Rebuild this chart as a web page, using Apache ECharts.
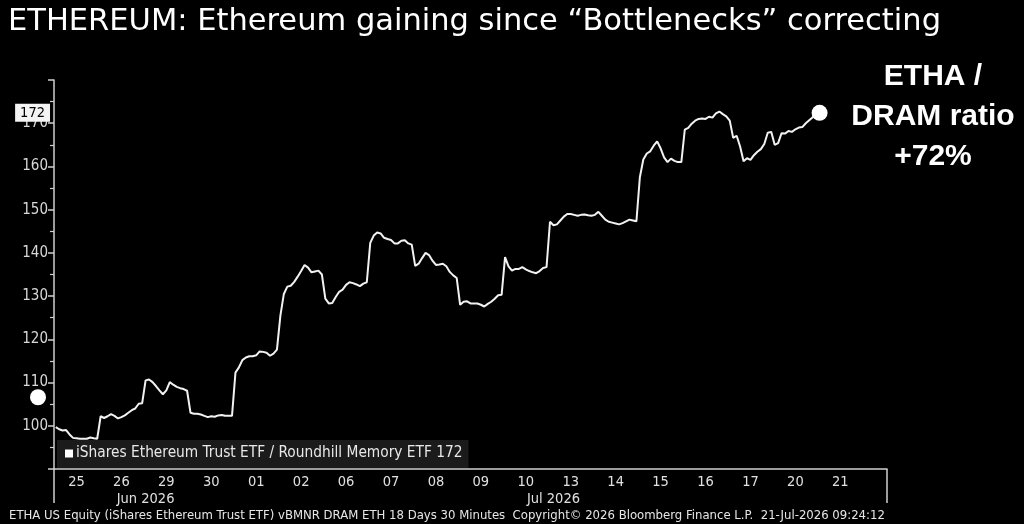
<!DOCTYPE html>
<html>
<head>
<meta charset="utf-8">
<script src="https://cdn.jsdelivr.net/npm/echarts@6/dist/echarts.min.js"></script>
<style>
html,body{margin:0;padding:0;background:#000;}
#chart{width:1024px;height:524px;}
</style>
</head>
<body>
<div id="chart"></div>
<script>
// ---- data ----
var tradingDays = ['06-25','06-26','06-29','06-30','07-01','07-02','07-06','07-07','07-08','07-09','07-10','07-13','07-14','07-15','07-16','07-17','07-20','07-21'];
var dayLabels = ['25','26','29','30','01','02','06','07','08','09','10','13','14','15','16','17','20','21'];
var slotTimes = ['09:30','10:00','10:30','11:00','11:30','12:00','12:30','13:00','13:30','14:00','14:30','15:00','15:30'];
var monthLabels = ['Jun 2026','Jul 2026'];
var seriesName = 'iShares Ethereum Trust ETF / Roundhill Memory ETF';
var ratioValues = [
  // 25 Jun
  99.7,99.2,98.9,99.0,98.0,97.2,97.1,97.0,97.0,97.0,97.3,97.1,97.0,
  // 26 Jun
  102.2,101.8,102.2,102.7,102.3,101.7,102.0,102.4,103.0,103.6,104.0,105.1,105.2,
  // 29 Jun
  110.5,110.7,110.1,109.2,108.2,107.3,108.2,110.1,109.5,109.0,108.7,108.5,108.1,
  // 30 Jun
  103.0,102.8,102.8,102.6,102.3,102.0,102.2,102.1,102.4,102.5,102.3,102.3,102.3,
  // 01 Jul
  112.3,113.5,115.2,115.8,116.1,116.1,116.3,117.2,117.1,116.9,116.2,116.7,117.6,
  // 02 Jul
  125.5,130.5,132.2,132.4,133.3,134.5,135.8,137.2,136.6,135.5,135.7,135.9,135.0,
  // 06 Jul
  129.4,128.3,128.4,129.8,131.0,131.5,132.6,133.2,133.0,132.7,132.3,132.9,133.2,
  // 07 Jul
  142.3,144.0,144.7,144.5,143.5,143.2,143.0,142.2,142.2,142.8,142.9,142.2,141.9,
  // 08 Jul
  137.0,137.5,138.8,140.0,139.5,138.2,137.2,137.3,137.5,136.9,135.6,134.8,134.2,
  // 09 Jul
  128.0,128.7,128.8,128.3,128.3,128.3,128.0,127.6,128.2,128.7,129.4,130.2,130.3,
  // 10 Jul
  139.0,136.9,135.9,136.3,136.3,136.7,136.2,135.8,135.5,135.3,135.8,136.5,136.7,
  // 13 Jul
  147.2,146.4,146.6,147.5,148.4,149.0,149.0,148.8,148.6,148.8,148.9,148.7,148.6,
  // 14 Jul
  148.8,149.5,148.6,147.7,147.2,147.0,146.8,146.6,146.9,147.3,147.7,147.5,147.3,
  // 15 Jul
  157.5,161.6,163.0,163.5,164.8,165.8,164.2,162.1,161.0,161.8,161.3,161.0,161.0,
  // 16 Jul
  168.5,168.9,169.9,170.6,171.0,171.1,171.0,171.5,171.3,172.3,172.7,172.1,171.6,
  // 17 Jul
  170.6,166.6,167.1,164.6,161.2,161.9,161.5,162.6,163.4,164.0,165.2,167.8,168.0,
  // 20 Jul
  165.0,165.4,167.7,167.6,168.2,168.0,168.6,169.0,169.1,170.0,170.7,171.4,172.0,
  // 21 Jul
  172.4
];
var startMarkerValue = 106.6;
var annotationLines = ['ETHA /','DRAM ratio','+72%'];

// ---- build categories ----
var SLOTS = slotTimes.length;
var categories = [];
tradingDays.forEach(function(d){ slotTimes.forEach(function(t){ categories.push('2026-' + d + ' ' + t); }); });
var PAD = 7;
for (var p = 0; p < PAD; p++) categories.push('pad' + p);
var nDayCats = tradingDays.length * SLOTS;
var lastIdx = ratioValues.length - 1;
var lastVal = ratioValues[lastIdx];
var monthIdx = {26: monthLabels[0], 144: monthLabels[1]};
var junEnd = tradingDays.filter(function(d){return d.indexOf('06-')===0;}).length * SLOTS;

var condensed = '"DejaVu Sans Condensed","Liberation Sans Narrow","Roboto Condensed",sans-serif';

var chart = echarts.init(document.getElementById('chart'));
var option = {
  backgroundColor: '#000',
  animation: false,
  title: [
    { text: 'ETHEREUM: Ethereum gaining since \u201cBottlenecks\u201d correcting', left: 3, top: 2,
      textStyle: { color: '#fff', fontSize: 30.5, fontWeight: 'normal', fontFamily: '"DejaVu Sans", sans-serif' } },
    { text: 'ETHA US Equity (iShares Ethereum Trust ETF) vBMNR DRAM ETH 18 Days 30 Minutes  Copyright\u00a9 2026 Bloomberg Finance L.P.  21-Jul-2026 09:24:12',
      left: 4, top: 504,
      textStyle: { color: '#e6e6e6', fontSize: 13, fontWeight: 'normal', fontFamily: condensed } }
  ],
  legend: {
    left: 57, top: 440, orient: 'horizontal',
    backgroundColor: '#1b1b1b', padding: [6, 6, 7, 8],
    icon: 'rect', itemWidth: 8, itemHeight: 8, itemGap: 4,
    textStyle: { color: '#e8e8e8', fontSize: 15.3, fontFamily: condensed, padding: [0,0,0,-2] },
    formatter: function(n){ return n + ' ' + Math.round(lastVal); },
    data: [seriesName]
  },
  grid: { left: 54, right: 137, top: 80, bottom: 55, containLabel: false },
  xAxis: [
    {
      type: 'category', data: categories, boundaryGap: true, position: 'bottom',
      axisLine: { show: true, lineStyle: { color: '#cfcfcf', width: 1.5 } },
      axisTick: { show: true, length: 34, interval: function(i){ return i === junEnd; }, lineStyle: { color: '#cfcfcf', width: 1.5 } },
      axisLabel: {
        color: '#e0e0e0', fontSize: 14.5, fontFamily: condensed, margin: 6,
        interval: function(i){ return i < nDayCats && i % SLOTS === 6; },
        formatter: function(v, i){ return dayLabels[Math.floor(i / SLOTS)] || ''; }
      },
      splitLine: { show: false }
    },
    {
      type: 'category', data: categories, boundaryGap: true, position: 'bottom', offset: 17,
      axisLine: { show: false }, axisTick: { show: false },
      axisLabel: {
        color: '#e0e0e0', fontSize: 14.5, fontFamily: condensed, margin: 6,
        interval: function(i){ return monthIdx[i] !== undefined; },
        formatter: function(v, i){ return monthIdx[i] || ''; }
      },
      splitLine: { show: false }
    }
  ],
  yAxis: {
    type: 'value', min: 90, max: 180, interval: 10,
    axisLine: { show: true, lineStyle: { color: '#cfcfcf', width: 1.5 } },
    axisTick: { show: true, length: 6, lineStyle: { color: '#cfcfcf', width: 1.5 } },
    minorTick: { show: true, splitNumber: 2, length: 4, lineStyle: { color: '#cfcfcf', width: 1.2 } },
    axisLabel: {
      color: '#d8d8d8', fontSize: 15, fontFamily: condensed, margin: 6,
      formatter: function(v){ return (v >= 100 && v <= 170) ? String(v) : ''; }
    },
    splitLine: { show: false }
  },
  series: [{
    name: seriesName, type: 'line', data: ratioValues, xAxisIndex: 0,
    showSymbol: false, symbol: 'none', smooth: false,
    lineStyle: { color: '#f2f2f2', width: 2 }, itemStyle: { color: '#ffffff' },
    markLine: {
      silent: true, symbol: 'none', animation: false,
      lineStyle: { width: 1, color: 'rgba(0,0,0,0)', type: 'solid' },
      label: {
        show: true, position: 'start', distance: 4,
        formatter: String(Math.round(lastVal)),
        color: '#000', backgroundColor: '#f4f4f4', padding: [2, 5, 1, 5],
        fontSize: 14.5, fontFamily: condensed, opacity: 1
      },
      data: [{ yAxis: lastVal }]
    },
    markPoint: {
      symbol: 'circle', symbolSize: 16,
      itemStyle: { color: '#fff' },
      label: { show: false },
      data: [{ coord: [lastIdx, lastVal] }]
    }
  }]
};
chart.setOption(option);

var startY = chart.convertToPixel({ yAxisIndex: 0 }, startMarkerValue);
chart.setOption({
  graphic: [
    { type: 'circle', shape: { cx: 38, cy: startY, r: 8 }, style: { fill: '#fff' }, z: 100 },
    { type: 'text', style: { text: annotationLines.join('\n'), x: 933, y: 57, textAlign: 'center',
        fill: '#fff', font: 'bold 30px "Liberation Sans", Inter, sans-serif', lineHeight: 40 }, z: 100 }
  ]
});
</script>
</body>
</html>
